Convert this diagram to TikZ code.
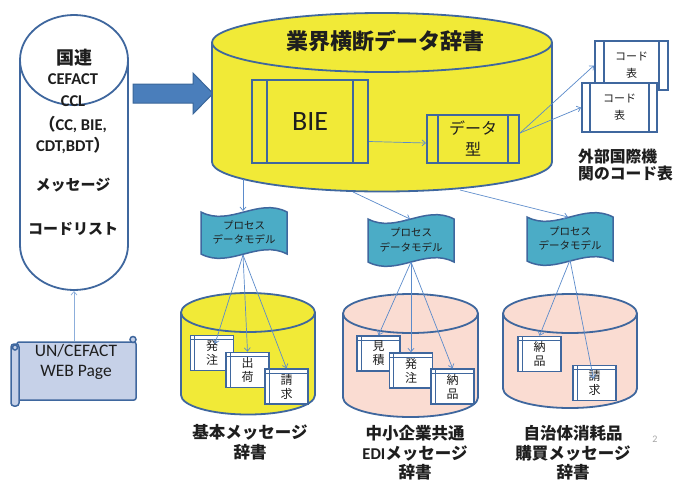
\documentclass[tikz,border=0pt]{standalone}
\usepackage{fontspec}
\setmainfont{Carlito}
\newfontfamily\jp{Noto Sans CJK JP}
\newfontfamily\lat{Carlito}
\usetikzlibrary{arrows.meta}
\definecolor{olc}{HTML}{3F679E}
\definecolor{ylw}{HTML}{F1EA37}
\definecolor{pnk}{HTML}{FADCD2}
\definecolor{tealf}{HTML}{4BACC6}
\definecolor{scr}{HTML}{C6D1E8}
\definecolor{arrf}{HTML}{4A7EBB}
\definecolor{arrd}{HTML}{3A6699}
\definecolor{lnk}{HTML}{5B8BCB}
\definecolor{txt}{HTML}{1E1E1E}
% cylinder: cx, top-center y, bottom-center y, rx, ry, fill
\newcommand\drawcyl[6]{%
  \fill[#6] (#1-#4,#2) rectangle (#1+#4,#3);
  \fill[#6] (#1,#3) ellipse[x radius=#4pt, y radius=#5pt];
  \begin{scope}
    \clip (#1-#4-5,#3) rectangle (#1+#4+5,#3+#5+5);
    \draw[cylline] (#1,#3) ellipse[x radius=#4pt, y radius=#5pt];
  \end{scope}
  \draw[cylline] (#1-#4,#2) -- (#1-#4,#3) (#1+#4,#2) -- (#1+#4,#3);
  \draw[cylline, fill=#6] (#1,#2) ellipse[x radius=#4pt, y radius=#5pt];
}
% wave (process model) shape: cx, top y, bottom y
\newcommand\wavebox[3]{%
  \draw[pmline] (#1-43,#2) .. controls (#1-14.33,#2+15) and (#1+14.33,#2-15) .. (#1+43,#2)
    -- (#1+43,#3) .. controls (#1+14.33,#3-15) and (#1-14.33,#3+15) .. (#1-43,#3) -- cycle;
}
\begin{document}
\begin{tikzpicture}[x=1pt,y=-1pt,
  cylline/.style={draw=olc,line width=1.8pt},
  pmline/.style={draw=olc,line width=1.5pt,fill=tealf},
  scrline/.style={draw=olc,line width=1.5pt},
  lnkarrow/.style={draw=lnk,line width=0.7pt,-{Straight Barb[length=3.5pt,width=6pt]}},
  sidebox/.style={draw=olc,line width=2pt,inner sep=0pt,align=center,text=txt,
    path picture={\draw[olc,line width=2pt]
      ([xshift=#1]path picture bounding box.north west) -- ([xshift=#1]path picture bounding box.south west)
      ([xshift=-#1]path picture bounding box.north east) -- ([xshift=-#1]path picture bounding box.south east);}},
  docbox/.style={draw=olc,line width=1.5pt,fill=white,minimum width=43pt,minimum height=35pt,
    inner sep=0pt,align=center,text=txt,font=\jp\fontsize{12}{14}\selectfont,
    path picture={\draw[olc,line width=1pt]
      ([xshift=4pt]path picture bounding box.north west) -- ([xshift=4pt]path picture bounding box.south west)
      ([yshift=-4pt]path picture bounding box.north west) -- ([yshift=-4pt]path picture bounding box.north east);}},
  pmtext/.style={font=\jp\fontsize{10.5}{14.5}\selectfont,align=center,text=txt},
  lbl/.style={font=\jp\bfseries\fontsize{16.5}{19.5}\selectfont,align=center,text=txt},
  latb/.style={font=\lat\bfseries\fontsize{16.5}{18}\selectfont,text=txt},
  jpbig/.style={font=\jp\bfseries\fontsize{18}{20}\selectfont,text=txt},
  jpmid/.style={font=\jp\bfseries\fontsize{15}{17}\selectfont,text=txt}
]
\useasboundingbox[fill=white] (0,0) rectangle (677,480);

% big blue arrow
\draw[fill=arrf,draw=arrd,line width=1pt] (133,84) -- (193,84) -- (193,73) -- (213,93.5)
  -- (193,114) -- (193,103) -- (133,103) -- cycle;

% left cylinder
\drawcyl{74}{60}{245}{54}{45}{white}
\node[jpbig] (un1) at (74,58) {国連};
\node[latb] (un2) at (73,79) {CEFACT};
\node[latb] (un3) at (73,101) {CCL};
\node[latb] (un4) at (73,124) {{\jp （}CC, BIE,};
\node[latb] (un5) at (73,145) {CDT,BDT{\jp ）}};
\node[jpmid] (un6) at (73,185) {メッセージ};
\node[jpmid] (un7) at (73,229) {コードリスト};
\coordinate (lcb) at (74,291);

% big yellow cylinder
\drawcyl{382}{42.5}{162}{170}{29.5}{ylw}
\node[font=\jp\bfseries\fontsize{22}{24}\selectfont,text=txt] (title) at (385,41) {業界横断データ辞書};
\node[sidebox=15pt,fill=ylw,minimum width=116pt,minimum height=83pt,
  font=\lat\fontsize{28}{30}\selectfont] (bie) at (310,121.5) {BIE};
\node[sidebox=11pt,fill=ylw,minimum width=92pt,minimum height=48pt,
  font=\jp\fontsize{16}{21}\selectfont] (dtype) at (473,139) {データ\\型};
\coordinate (d1) at (243,179);
\coordinate (d2) at (353,192);
\coordinate (d3) at (460,190);

% code tables
\node[sidebox=9pt,fill=white,minimum width=73pt,minimum height=49pt,
  font=\jp\fontsize{11}{17}\selectfont] (code1) at (631.5,65.5) {コード\\表};
\node[sidebox=8pt,fill=white,minimum width=75pt,minimum height=49pt,
  font=\jp\fontsize{11}{17}\selectfont] (code2) at (619.5,107.5) {コード\\表};
\node[anchor=west,align=left,font=\jp\bfseries\fontsize{15.8}{17}\selectfont,text=txt,inner xsep=0pt]
  (ext) at (578,165) {外部国際機\\関のコード表};

% process models
\wavebox{244}{212}{254}
\node[pmtext] (pm1) at (244,232.5) {プロセス\\データモデル};
\wavebox{411}{219}{262}
\node[pmtext] (pm2) at (411,240) {プロセス\\データモデル};
\wavebox{570}{217}{261}
\node[pmtext] (pm3) at (570,238.5) {プロセス\\データモデル};
\coordinate (pm1t) at (243,211);
\coordinate (pm1b) at (243,255);
\coordinate (pm2t) at (410,219);
\coordinate (pm2b) at (411,262);
\coordinate (pm3t) at (568,217);
\coordinate (pm3b) at (570,260);

% lower cylinders
\drawcyl{248}{312.5}{395}{67}{19.5}{ylw}
\drawcyl{410.5}{313.5}{397.5}{67.5}{19.5}{pnk}
\drawcyl{570}{313.5}{388.5}{67}{19.5}{pnk}

\node[docbox] (b11) at (212,353) {発\\注};
\node[docbox] (b12) at (247.5,370) {出\\荷};
\node[docbox] (b13) at (286.5,386.5) {請\\求};
\node[docbox] (b21) at (378.5,353.5) {見\\積};
\node[docbox] (b22) at (411,370.5) {発\\注};
\node[docbox] (b23) at (452.5,386.5) {納\\品};
\node[docbox] (b31) at (539.5,354) {納\\品};
\node[docbox] (b32) at (594.5,383) {請\\求};

\node[lbl] (l1) at (250,442) {基本メッセージ\\辞書};
\node[lbl] (l2) at (415,453) {中小企業共通\\{\lat EDI}メッセージ\\辞書};
\node[lbl] (l3) at (573,453) {自治体消耗品\\購買メッセージ\\辞書};

% scroll
\draw[scrline,fill=scr,rounded corners=2pt] (17,342) rectangle (136,400);
\draw[scrline,fill=scr,rounded corners=3pt] (11,344) rectangle (19,406);
\draw[scrline,fill=scr] (15,347.5) circle (2.5pt);
\draw[scrline,fill=scr] (133,339.5) circle (3pt);
\node[font=\lat\fontsize{17.5}{20}\selectfont,align=center,text=txt] (web) at (76,362) {UN/CEFACT\\WEB Page};
\coordinate (webtop) at (74,341);

% connectors
\draw[lnkarrow,draw=lnk!70] (webtop) -- (lcb);
\draw[lnkarrow] ([yshift=-20pt]bie.east) -- ([yshift=-4pt]dtype.west);
\draw[lnkarrow] ([yshift=6pt]dtype.east) -- (code1.west);
\draw[lnkarrow] ([yshift=6pt]dtype.east) -- (code2.west);
\draw[lnkarrow] (d1) -- (pm1t);
\draw[lnkarrow] (d2) -- (pm2t);
\draw[lnkarrow] (d3) -- (pm3t);
\draw[lnkarrow] (pm1b) -- ([xshift=3pt,yshift=-9pt]b11.north);
\draw[lnkarrow] (pm1b) -- (b12.north);
\draw[lnkarrow] (pm1b) -- (b13.north);
\draw[lnkarrow] (pm2b) -- (b21.north);
\draw[lnkarrow] (pm2b) -- (b22.north);
\draw[lnkarrow] (pm2b) -- (b23.north);
\draw[lnkarrow] (pm3b) -- (b31.north);
\draw[lnkarrow] (pm3b) -- ([xshift=-1pt,yshift=-14pt]b32.north);

\node[text=gray!70,font=\lat\fontsize{10}{12}\selectfont] (pg) at (655,439) {2};
\end{tikzpicture}
\end{document}
